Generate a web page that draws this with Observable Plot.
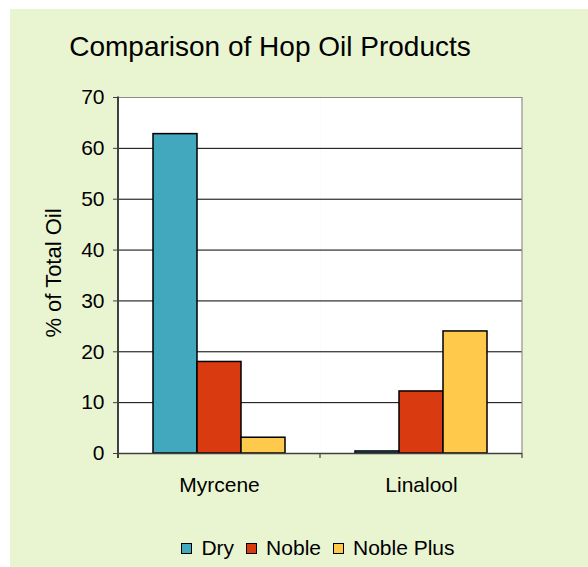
<!DOCTYPE html>
<html>
<head>
<meta charset="utf-8">
<script src="https://cdn.jsdelivr.net/npm/d3@7"></script>
<script src="https://cdn.jsdelivr.net/npm/@observablehq/plot@0.6"></script>
<style>
  html, body { margin: 0; padding: 0; background: #ffffff; overflow: hidden; }
  body { width: 588px; height: 567px; position: relative; font-family: 'Liberation Sans', Arial, sans-serif; }
  #panel { position: absolute; left: 10px; top: 9px; width: 578px; height: 558px; background: #E9F5D1; }
  #title { position: absolute; left: 0; width: 520px; top: 22px; text-align: center; font-size: 28px; line-height: normal; color: #000; white-space: nowrap; }
  #ylabel { position: absolute; left: 43.5px; top: 263.5px; font-size: 22px; line-height: normal; color: #000; white-space: nowrap; transform: translate(-50%, -50%) rotate(-90deg); }
  #chart { position: absolute; left: 0; top: 0; }
  #legend { position: absolute; left: 0; width: 616px; top: 527px; display: flex; justify-content: center; align-items: center; font-size: 21px; line-height: 24px; color: #000; }
  .item { display: flex; align-items: center; margin: 0 6px; }
  .sw { width: 9px; height: 9px; border: 1.5px solid #000; margin-right: 9px; }
</style>
</head>
<body>
<div id="panel">
  <div id="title">Comparison of Hop Oil Products</div>
  <div id="chart"></div>
  <div id="ylabel">% of Total Oil</div>
  <div id="legend"></div>
</div>
<script>
const categories = ["Myrcene", "Linalool"];
const series = ["Dry", "Noble", "Noble Plus"];
const dryValues = [62.8, 0.4];
const nobleValues = [18.0, 12.2];
const noblePlusValues = [3.1, 24.0];
const seriesColors = ["#42A8BE", "#D93A10", "#FFC94B"];
const yTicks = [0, 10, 20, 30, 40, 50, 60, 70];

const valuesBySeries = [dryValues, nobleValues, noblePlusValues];
const data = [];
categories.forEach((c, ci) => {
  series.forEach((s, si) => data.push({category: c, series: s, value: valuesBySeries[si][ci]}));
});

function borders(index, scales, values, dims) {
  const {width, height, marginLeft, marginRight, marginTop, marginBottom} = dims;
  const fx = scales.fx || (scales.scales && scales.scales.fx);
  let bounds;
  if (fx && typeof fx === "function" && fx.bandwidth) {
    const bw = fx.bandwidth();
    bounds = categories.map(c => fx(c));
    bounds.push(fx(categories[categories.length - 1]) + bw);
  } else {
    const step = (width - marginLeft - marginRight) / categories.length;
    bounds = d3.range(categories.length + 1).map(i => marginLeft + i * step);
  }
  const y0 = height - marginBottom;
  const g = d3.create("svg:g");
  for (const b of bounds) {
    g.append("line").attr("x1", b).attr("x2", b).attr("y1", y0).attr("y2", y0 + 5)
      .attr("stroke", "#404040").attr("stroke-width", 1.2);
  }
  g.append("line").attr("x1", bounds[bounds.length - 1]).attr("x2", bounds[bounds.length - 1])
    .attr("y1", marginTop).attr("y2", y0).attr("stroke", "#8c8c8c").attr("stroke-width", 1.2);
  g.append("line").attr("x1", bounds[0]).attr("x2", bounds[0])
    .attr("y1", marginTop - 0.5).attr("y2", y0 + 5).attr("stroke", "#404040").attr("stroke-width", 2);
  return g.node();
}

const chart = Plot.plot({
  width: 578,
  height: 500,
  marginLeft: 107,
  marginRight: 66,
  marginTop: 88,
  marginBottom: 56,
  style: {fontFamily: "'Liberation Sans', Arial, sans-serif", fontSize: "21px", color: "#000", background: "transparent", overflow: "visible"},
  fx: {domain: categories, padding: 0, label: null},
  x: {domain: series, paddingInner: 0, paddingOuter: 0.75, axis: null},
  y: {domain: [0, 70], axis: null},
  color: {domain: series, range: seriesColors},
  marks: [
    Plot.frame({fill: "white", stroke: "none"}),
    Plot.ruleY(yTicks.filter(t => t > 0 && t < 70), {stroke: "#000", strokeWidth: 1}),
    Plot.ruleY([70], {stroke: "#8c8c8c", strokeWidth: 1.2}),
    Plot.barY(data, {fx: "category", x: "series", y: "value", fill: "series", stroke: "#000", strokeWidth: 1.5}),
    Plot.ruleY([0], {stroke: "#404040", strokeWidth: 1.5}),
    Plot.axisY({ticks: yTicks, tickSize: 5, tickPadding: 9, label: null, stroke: "#404040", fontSize: 21}),
    Plot.axisFx({anchor: "bottom", tickSize: 0, tickPadding: 23.5, label: null, fontSize: 21}),
    Plot.frame({facet: "super", render: borders})
  ]
});
document.getElementById("chart").appendChild(chart);

const legend = document.getElementById("legend");
series.forEach((s, i) => {
  const item = document.createElement("div");
  item.className = "item";
  const sw = document.createElement("div");
  sw.className = "sw";
  sw.style.background = seriesColors[i];
  const t = document.createElement("span");
  t.textContent = s;
  item.appendChild(sw);
  item.appendChild(t);
  legend.appendChild(item);
});
</script>
</body>
</html>
